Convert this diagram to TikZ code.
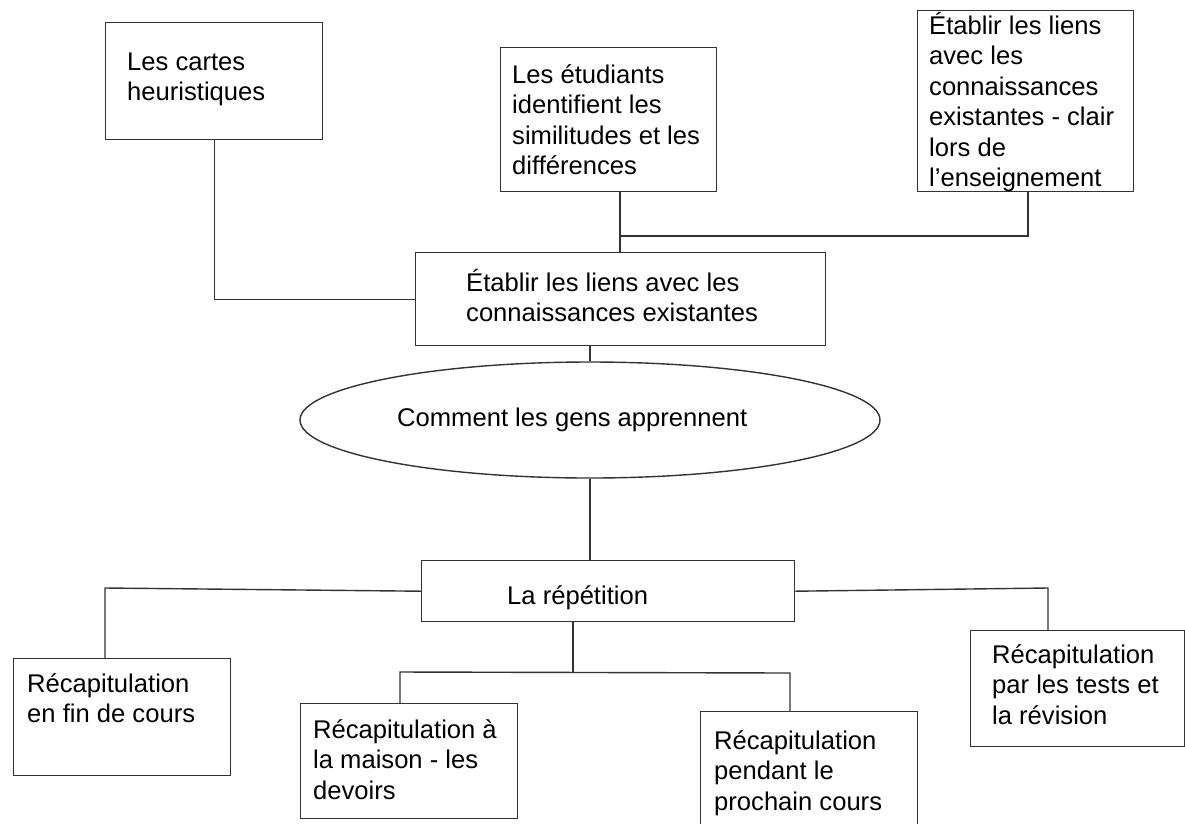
\documentclass[tikz,border=0pt]{standalone}
\usepackage{fontspec}
\setmainfont{Liberation Sans}
\usetikzlibrary{shapes.geometric,calc}
\newcommand{\ms}{\rule{0pt}{20pt}}
\begin{document}
\begin{tikzpicture}[x=1pt,y=-1pt,
  box/.style={draw=black!80,line width=1.4pt,rectangle,inner sep=0pt,anchor=north west},
  txt/.style={align=left,inner sep=0pt,anchor=north west,font=\fontsize{25.6}{30.5}\selectfont},
  ln/.style={draw=black!80,line width=1.4pt}]
\useasboundingbox (0,0) rectangle (1185,823);
\clip (0,0) rectangle (1185,823);
% boxes
\node[box,minimum width=217,minimum height=117] (cartes) at (105,22) {};
\node[box,minimum width=216,minimum height=144] (etud) at (500,47) {};
\node[box,minimum width=216,minimum height=181] (topr) at (917,10) {};
\node[box,minimum width=410,minimum height=93] (central) at (415,252) {};
\node[draw=black!80,line width=1.4pt,ellipse,minimum width=580,minimum height=116,inner sep=0pt] (ell) at (590,420) {};
\node[box,minimum width=373,minimum height=61] (rep) at (421,560) {};
\node[box,minimum width=217,minimum height=117] (fin) at (13,658) {};
\node[box,minimum width=217,minimum height=115] (maison) at (300,703) {};
\node[box,minimum width=217,minimum height=130] (pendant) at (700,711) {};
\node[box,minimum width=214,minimum height=116] (tests) at (970,630) {};
% texts
\node[txt] (tcartes) at (127,50) {\ms Les cartes\\heuristiques};
\node[txt] (tetud) at (512,63) {\ms Les étudiants\\identifient les\\similitudes et les\\différences};
\node[txt] (ttopr) at (929,12) {\ms Établir les liens\\avec les\\connaissances\\existantes - clair\\lors de\\l’enseignement};
\node[txt] (tcentral) at (466,269) {\ms Établir les liens avec les\\connaissances existantes};
\node[txt,anchor=base west] (tell) at (397,426) {Comment les gens apprennent};
\node[txt,anchor=base west] (trep) at (507,604) {La répétition};
\node[txt] (tfin) at (27,672) {\ms Récapitulation\\en fin de cours};
\node[txt] (tmaison) at (313,718) {\ms Récapitulation à\\la maison - les\\devoirs};
\node[txt] (tpendant) at (714,729) {\ms Récapitulation\\pendant le\\prochain cours};
\node[txt] (ttests) at (992,643) {\ms Récapitulation\\par les tests et\\la révision};
% junctions
\coordinate (jA) at (620,236);
\coordinate (jB) at (1028,236);
\coordinate (jL) at (105,588);
\coordinate (jR) at (1048,588);
\coordinate (jD) at (573,672);
\coordinate (jDL) at (400,672);
\coordinate (jDR) at (790,673);
% connectors
\draw[ln] (cartes.south) |- (central.west);
\draw[ln] (etud.south -| jA) -- (central.north -| jA);
\draw[ln] (jA) -- (jB) -- (jB |- topr.south);
\draw[ln] (ell.north) -- (ell.north |- central.south);
\draw[ln] (ell.south) -- (ell.south |- rep.north);
\draw[ln] (rep.west) -- (jL) -- (jL |- fin.north);
\draw[ln] (rep.east) -- (jR) -- (jR |- tests.north);
\draw[ln] (rep.south -| jD) -- (jD);
\draw[ln] (jDL |- maison.north) -- (jDL) -- (jDR) -- (jDR |- pendant.north);
\end{tikzpicture}
\end{document}
